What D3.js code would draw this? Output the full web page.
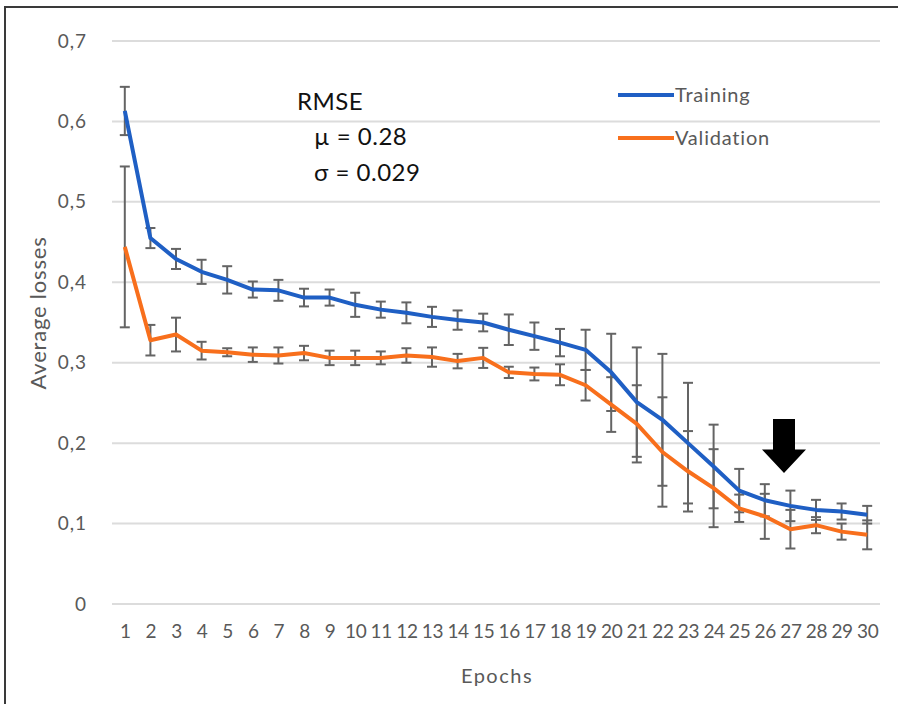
<!DOCTYPE html>
<html>
<head>
<meta charset="utf-8">
<script src="https://cdn.jsdelivr.net/npm/d3@7"></script>
<style>
  body { margin: 0; background: #fff; }
  svg text { font-family: Lato, "Open Sans", sans-serif; }
</style>
</head>
<body>
<svg id="chart" width="898" height="704"></svg>
<script>
// epochs on the x axis
const epochs = [1,2,3,4,5,6,7,8,9,10,11,12,13,14,15,16,17,18,19,20,21,22,23,24,25,26,27,28,29,30];

// average losses
const training = [0.613,0.455,0.429,0.413,0.403,0.391,0.390,0.381,0.381,0.372,0.366,0.362,0.357,0.353,0.350,
  0.341,0.333,0.325,0.316,0.288,0.251,0.229,0.200,0.171,0.141,0.129,0.122,0.117,0.115,0.111];
const trainingErr = [0.030,0.0125,0.0125,0.015,0.017,0.010,0.013,0.011,0.010,0.015,0.010,0.013,0.0125,0.012,0.011,
  0.019,0.017,0.017,0.025,0.048,0.068,0.082,0.075,0.052,0.027,0.020,0.019,0.0125,0.010,0.011];
const validation = [0.444,0.328,0.335,0.315,0.313,0.310,0.309,0.312,0.306,0.306,0.306,0.309,0.307,0.302,0.306,
  0.288,0.286,0.285,0.272,0.248,0.224,0.189,0.165,0.144,0.119,0.109,0.093,0.098,0.090,0.086];
const validationErr = [0.10,0.019,0.021,0.011,0.005,0.009,0.010,0.009,0.009,0.009,0.008,0.009,0.012,0.009,0.0125,
  0.007,0.008,0.013,0.019,0.034,0.048,0.068,0.050,0.0485,0.017,0.028,0.024,0.010,0.010,0.018];

const yTicks = [0,0.1,0.2,0.3,0.4,0.5,0.6,0.7];
const seriesNames = ["Training","Validation"];
const colors = ["#1f5fc4","#f86f1c"];
const statsLines = ["RMSE","\u00b5 = 0.28","\u03c3 = 0.029"];
// arrow marks the chosen epoch (tip / head base / tail in loss units)
const arrowEpoch = 26.75, arrowTip = 0.163, arrowHead = 0.192, arrowTail = 0.230;

const svg = d3.select("#chart");

// frame of the original figure (left + top edge)
svg.append("path")
  .attr("d","M5,704 L5,7 L898,7")
  .attr("fill","none").attr("stroke","#3a3a3a").attr("stroke-width",2);

const x = d3.scalePoint().domain(epochs).range([112,880]).padding(0.5);
const y = d3.scaleLinear().domain([0,0.7]).range([604,41]);
const xAt = e => x(1) + (e-1)*x.step();

// gridlines
svg.append("g").selectAll("line").data(yTicks).join("line")
  .attr("x1",112).attr("x2",880)
  .attr("y1",d=>y(d)).attr("y2",d=>y(d))
  .attr("stroke","#dcdcdc").attr("stroke-width",2);

// y axis labels
const yAxis = svg.append("g").attr("transform","translate(90,0)")
  .call(d3.axisLeft(y).tickValues(yTicks).tickSize(0)
    .tickFormat(d => d===0 ? "0" : d3.format(".1f")(d).replace(".",",")));
yAxis.select(".domain").remove();
yAxis.selectAll("text").attr("font-size",19).attr("fill","#595959").attr("letter-spacing",1)
  .style("font-family","Lato, 'Open Sans', sans-serif");

// x axis labels
const xAxis = svg.append("g").attr("transform","translate(0,619)")
  .call(d3.axisBottom(x).tickSize(0));
xAxis.select(".domain").remove();
xAxis.selectAll("text").attr("font-size",19).attr("fill","#595959").attr("dy","0.85em")
  .attr("letter-spacing",-0.3)
  .style("font-family","Lato, 'Open Sans', sans-serif");

svg.append("text").attr("x",497).attr("y",683).attr("text-anchor","middle")
  .attr("font-size",20).attr("letter-spacing",1.5).attr("fill","#595959").text("Epochs");
svg.append("text").attr("transform","translate(46,313) rotate(-90)").attr("text-anchor","middle")
  .attr("font-size",22).attr("letter-spacing",0.8).attr("fill","#595959").text("Average losses");

// error bars then lines
const series = [
  {vals: training, err: trainingErr},
  {vals: validation, err: validationErr}
];
series.forEach((s,i) => {
  const g = svg.append("g");
  const pts = epochs.map((e,k) => ({e:e, v:s.vals[k], d:s.err[k]}));
  g.selectAll("line.bar").data(pts).join("line").attr("class","bar")
    .attr("x1",d=>x(d.e)).attr("x2",d=>x(d.e))
    .attr("y1",d=>y(d.v+d.d)).attr("y2",d=>y(d.v-d.d))
    .attr("stroke","#646464").attr("stroke-width",2);
  [1,-1].forEach(sgn => {
    g.selectAll("line.cap"+sgn).data(pts).join("line")
      .attr("x1",d=>x(d.e)-5).attr("x2",d=>x(d.e)+5)
      .attr("y1",d=>y(d.v+sgn*d.d)).attr("y2",d=>y(d.v+sgn*d.d))
      .attr("stroke","#646464").attr("stroke-width",2);
  });
});
series.forEach((s,i) => {
  svg.append("path").datum(epochs.map((e,k)=>[e,s.vals[k]]))
    .attr("fill","none").attr("stroke",colors[i]).attr("stroke-width",4)
    .attr("stroke-linejoin","round")
    .attr("d", d3.line().x(d=>x(d[0])).y(d=>y(d[1])));
});

// legend
const legend = svg.append("g").selectAll("g").data(seriesNames).join("g")
  .attr("transform",(d,i)=>`translate(618,${95+i*43})`);
legend.append("line").attr("x1",0).attr("x2",56)
  .attr("stroke",(d,i)=>colors[i]).attr("stroke-width",4);
legend.append("text").attr("x",57).attr("y",7).attr("font-size",20).attr("letter-spacing",0.8)
  .attr("fill","#595959").text(d=>d);

// RMSE note
svg.append("g").selectAll("text").data(statsLines).join("text")
  .attr("x",(d,i)=> i===0 ? 297 : 314)
  .attr("y",(d,i)=>[110,145,181][i])
  .attr("font-size",24).attr("letter-spacing",0.5).attr("fill","#111").text(d=>d);

// arrow
const ax = xAt(arrowEpoch);
svg.append("path")
  .attr("d",`M${ax-11},${y(arrowTail)} L${ax+11},${y(arrowTail)} L${ax+11},${y(arrowHead)}
    L${ax+22},${y(arrowHead)} L${ax},${y(arrowTip)} L${ax-22},${y(arrowHead)} L${ax-11},${y(arrowHead)} Z`)
  .attr("fill","#000");
</script>
</body>
</html>
